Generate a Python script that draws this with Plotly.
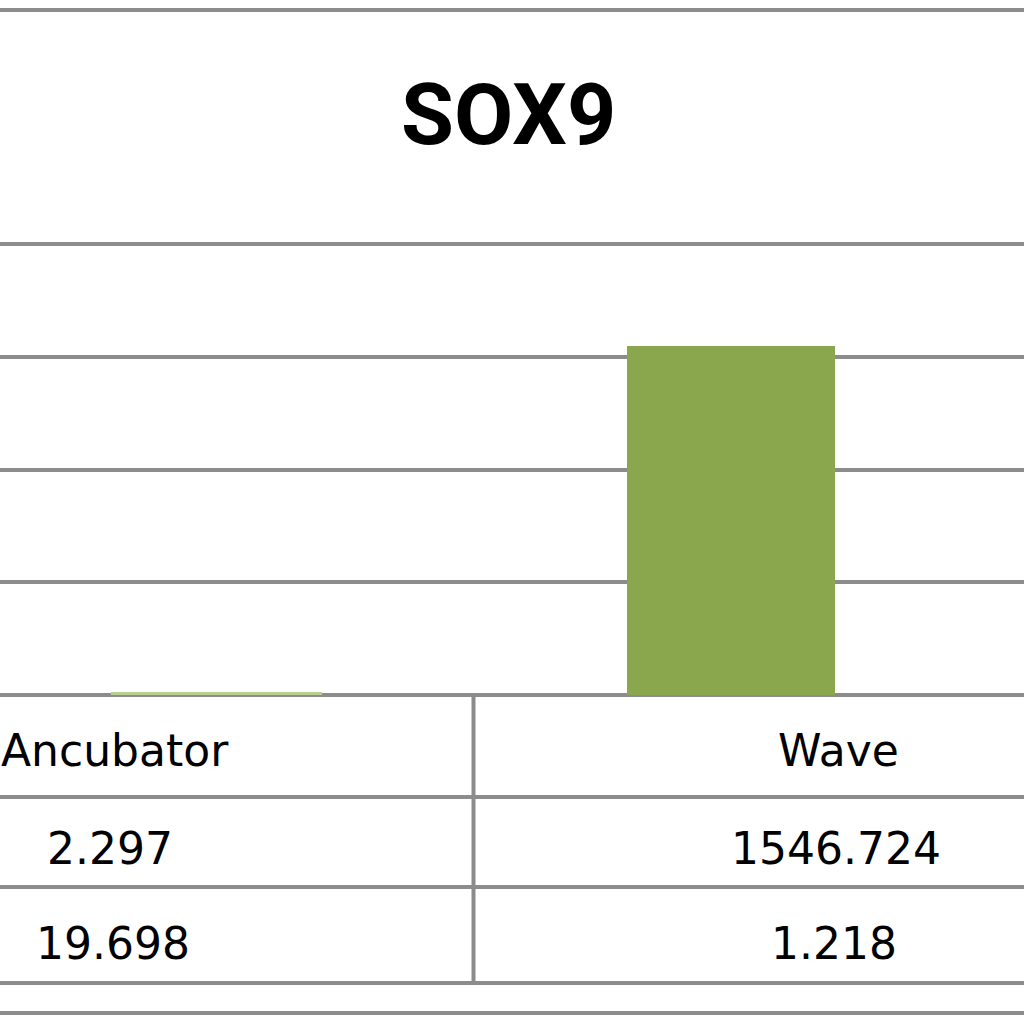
import plotly.graph_objects as go

# ---- data ----
title_text = "SOX9"
categories = ["Ancubator", "Wave"]
series_main = [2.297, 1546.724]
series_second = [19.698, 1.218]
y_ticks = [0, 500, 1000, 1500, 2000]

W, H = 1024, 1024
BOTTOM = 695                     # pixel row of value 0
PX_PER_UNIT = (695 - 244) / 2000.0
TOP = 220                        # plot area top pixel (a bit above the 2000 gridline)
Y_MAX = (BOTTOM - TOP) / PX_PER_UNIT
PLOT_H = BOTTOM - TOP

def py(p):  # pixel row -> paper y
    return (BOTTOM - p) / PLOT_H

def px(p):  # pixel col -> paper x
    return p / W

LINE = "#8c8c8c"
LW = 4
BAR = "#8AA74E"

fig = go.Figure()
fig.add_trace(go.Bar(
    x=categories, y=series_main, width=0.405,
    marker=dict(color=BAR,
                line=dict(color=["#b9cf90", BAR], width=[3, 0])),
    showlegend=False, hoverinfo="x+y",
))

shapes = []
# chart border line at top
shapes.append(dict(type="line", xref="paper", yref="paper", x0=0, x1=1,
                   y0=py(10), y1=py(10), line=dict(color=LINE, width=LW)))
# table horizontal lines
for row in [797, 887, 983, 1013]:
    shapes.append(dict(type="line", xref="paper", yref="paper", x0=0, x1=1,
                       y0=py(row), y1=py(row), line=dict(color=LINE, width=LW)))
# table vertical divider
shapes.append(dict(type="line", xref="paper", yref="paper", x0=px(473.5), x1=px(473.5),
                   y0=py(695), y1=py(983), line=dict(color=LINE, width=LW)))

annotations = [dict(text=title_text, xref="paper", yref="paper", x=px(508), y=py(115),
                    showarrow=False, xanchor="center", yanchor="middle",
                    font=dict(family="Roboto", size=86, color="#000000", weight="bold"))]

TF = dict(family="DejaVu Sans", size=44, color="#000000")
col_centers = [115, 838]
for i, cat in enumerate(categories):
    annotations.append(dict(text=cat, xref="paper", yref="paper", x=px(col_centers[i]),
                            y=py(750), showarrow=False, xanchor="center", yanchor="middle", font=TF))
    annotations.append(dict(text=f"{series_main[i]:.3f}", xref="paper", yref="paper",
                            x=px([110, 836][i]), y=py(848), showarrow=False,
                            xanchor="center", yanchor="middle", font=TF))
    annotations.append(dict(text=f"{series_second[i]:.3f}", xref="paper", yref="paper",
                            x=px([113, 834][i]), y=py(943), showarrow=False,
                            xanchor="center", yanchor="middle", font=TF))

fig.update_layout(
    width=W, height=H,
    margin=dict(l=0, r=0, t=TOP, b=H - BOTTOM, pad=0),
    paper_bgcolor="white", plot_bgcolor="white",
    xaxis=dict(type="category", range=[-0.422, 1.570], showticklabels=False,
               showgrid=False, zeroline=False, showline=False, ticks=""),
    yaxis=dict(range=[0, Y_MAX], tickvals=y_ticks, showticklabels=False,
               showgrid=True, gridcolor=LINE, gridwidth=LW,
               zeroline=True, zerolinecolor=LINE, zerolinewidth=LW,
               showline=False, ticks=""),
    shapes=shapes, annotations=annotations,
    bargap=0,
)

fig.write_html("out.html", config={"displayModeBar": False},
               post_script="document.body.style.margin='0';")
